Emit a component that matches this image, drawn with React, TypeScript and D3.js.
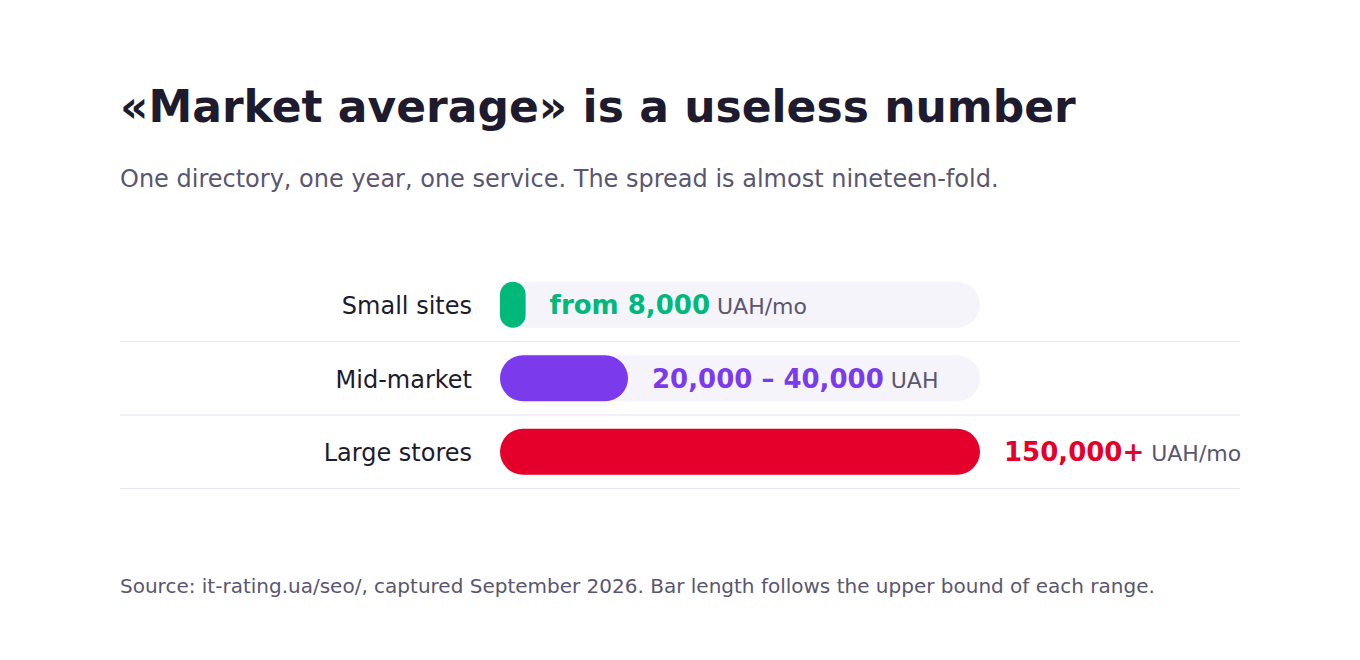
import React, { useEffect, useRef } from "react";
import * as d3 from "d3";

const categories = ["Small sites", "Mid-market", "Large stores"];
const upperBounds = [8000, 40000, 150000];
const valueLabels = ["from 8,000", "20,000 – 40,000", "150,000+"];
const unitLabels = ["UAH/mo", "UAH", "UAH/mo"];
const barColors = ["#00b87a", "#7c3aed", "#e4002b"];

const W = 1360;
const H = 660;
const FONT = "'DejaVu Sans', sans-serif";

const App: React.FC = () => {
	const svgRef = useRef<SVGSVGElement>(null);

	useEffect(() => {
		if (!svgRef.current) return;
		const svg = d3.select(svgRef.current);
		svg.selectAll("*").remove();

		svg.append("rect").attr("width", W).attr("height", H).attr("fill", "#fff");

		svg
			.append("text")
			.attr("x", 120)
			.attr("y", 122)
			.attr("font-family", FONT)
			.attr("font-weight", "bold")
			.attr("font-size", 44)
			.attr("fill", "#1e1b2e")
			.text("«Market average» is a useless number");

		svg
			.append("text")
			.attr("x", 120)
			.attr("y", 187)
			.attr("font-family", FONT)
			.attr("font-size", 24)
			.attr("fill", "#5a5670")
			.text("One directory, one year, one service. The spread is almost nineteen-fold.");

		const x = d3.scaleLinear().domain([0, 150000]).range([500, 980]);
		const y = d3.scaleBand().domain(categories).range([268, 488.5]).padding(0);
		const barH = 46;
		const radius = (w: number) => Math.min(barH / 2, w / 2);

		const rows = svg
			.append("g")
			.selectAll("g")
			.data(categories)
			.join("g")
			.attr("transform", (d) => `translate(0,${(y(d) || 0) + y.bandwidth() / 2})`);

		// separators
		rows
			.append("line")
			.attr("x1", 120)
			.attr("x2", 1240)
			.attr("y1", y.bandwidth() / 2)
			.attr("y2", y.bandwidth() / 2)
			.attr("stroke", "#e6e5f0")
			.attr("stroke-width", 1);

		// tracks
		rows
			.append("rect")
			.attr("x", x(0))
			.attr("y", -barH / 2)
			.attr("width", x(150000) - x(0))
			.attr("height", barH)
			.attr("rx", barH / 2)
			.attr("ry", barH / 2)
			.attr("fill", "#f4f4fa");

		// bars
		rows
			.append("rect")
			.attr("x", x(0))
			.attr("y", -barH / 2)
			.attr("width", (_, i) => x(upperBounds[i]) - x(0))
			.attr("height", barH)
			.attr("rx", (_, i) => radius(x(upperBounds[i]) - x(0)))
			.attr("ry", (_, i) => radius(x(upperBounds[i]) - x(0)))
			.attr("fill", (_, i) => barColors[i]);

		// category labels
		rows
			.append("text")
			.attr("x", 472)
			.attr("y", 9.5)
			.attr("text-anchor", "end")
			.attr("font-family", FONT)
			.attr("font-size", 24)
			.attr("fill", "#1e1b2e")
			.text((d) => d);

		// value labels
		const vt = rows
			.append("text")
			.attr("x", (_, i) => x(upperBounds[i]) + 24)
			.attr("y", 9.5)
			.attr("font-family", FONT);
		vt.append("tspan")
			.attr("font-weight", "bold")
			.attr("font-size", 26)
			.attr("fill", (_, i) => barColors[i])
			.text((_, i) => valueLabels[i]);
		vt.append("tspan")
			.attr("font-size", 22)
			.attr("fill", "#5a5670")
			.attr("dx", 7)
			.text((_, i) => unitLabels[i]);

		svg
			.append("text")
			.attr("x", 120)
			.attr("y", 593)
			.attr("font-family", FONT)
			.attr("font-size", 20)
			.attr("fill", "#5a5670")
			.text(
				"Source: it-rating.ua/seo/, captured September 2026. Bar length follows the upper bound of each range."
			);
	}, []);

	return (
		<svg
			ref={svgRef}
			width={W}
			height={H}
			style={{ display: "block", position: "absolute", left: 0, top: 0 }}
		/>
	);
};

export default App;
